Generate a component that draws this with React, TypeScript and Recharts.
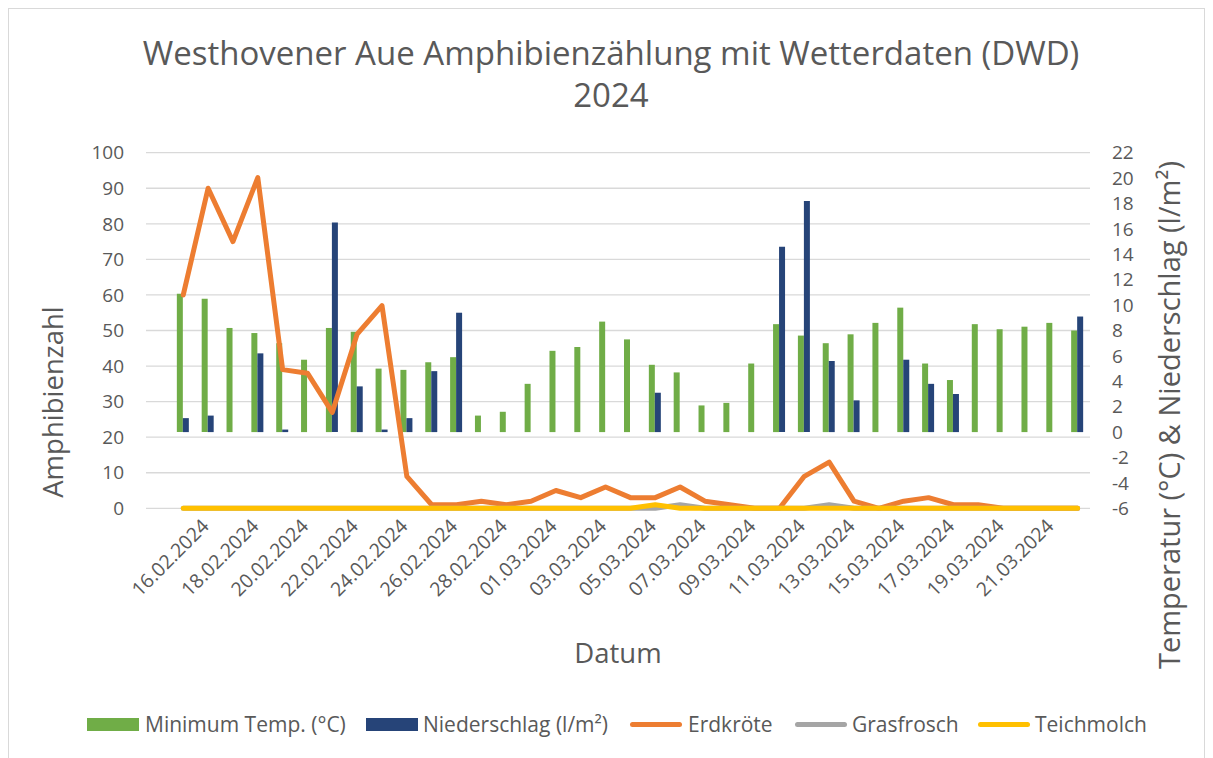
import { ComposedChart, Bar, Line, XAxis, YAxis, CartesianGrid } from 'recharts';

const FONT = '"Open Sans", sans-serif';
const TEXT = '#595959';

// 16.02.2024 – 23.03.2024
const dates = [
  '16.02.2024', '17.02.2024', '18.02.2024', '19.02.2024', '20.02.2024', '21.02.2024',
  '22.02.2024', '23.02.2024', '24.02.2024', '25.02.2024', '26.02.2024', '27.02.2024',
  '28.02.2024', '29.02.2024', '01.03.2024', '02.03.2024', '03.03.2024', '04.03.2024',
  '05.03.2024', '06.03.2024', '07.03.2024', '08.03.2024', '09.03.2024', '10.03.2024',
  '11.03.2024', '12.03.2024', '13.03.2024', '14.03.2024', '15.03.2024', '16.03.2024',
  '17.03.2024', '18.03.2024', '19.03.2024', '20.03.2024', '21.03.2024', '22.03.2024',
  '23.03.2024',
];

const minTemp = [
  10.9, 10.5, 8.2, 7.8, 7.0, 5.7, 8.2, 7.9, 5.0, 4.9, 5.5, 5.9, 1.3, 1.6, 3.8, 6.4, 6.7, 8.7,
  7.3, 5.3, 4.7, 2.1, 2.3, 5.4, 8.5, 7.6, 7.0, 7.7, 8.6, 9.8, 5.4, 4.1, 8.5, 8.1, 8.3, 8.6, 8.0,
];
const niederschlag = [
  1.1, 1.3, 0, 6.2, 0.2, 0, 16.5, 3.6, 0.2, 1.1, 4.8, 9.4, 0, 0, 0, 0, 0, 0,
  0, 3.1, 0, 0, 0, 0, 14.6, 18.2, 5.6, 2.5, 0, 5.7, 3.8, 3.0, 0, 0, 0, 0, 9.1,
];
const erdkroete = [
  60, 90, 75, 93, 39, 38, 27, 49, 57, 9, 1, 1, 2, 1, 2, 5, 3, 6,
  3, 3, 6, 2, 1, 0, 0, 9, 13, 2, 0, 2, 3, 1, 1, 0, 0, 0, 0,
];
const grasfrosch = [
  0, 0, 0, 0, 0, 0, 0, 0, 0, 0, 0, 0, 0, 0, 0, 0, 0, 0,
  0, 0, 1, 0, 0, 0, 0, 0, 1, 0, 0, 0, 0, 0, 0, 0, 0, 0, 0,
];
const teichmolch = [
  0, 0, 0, 0, 0, 0, 0, 0, 0, 0, 0, 0, 0, 0, 0, 0, 0, 0,
  0, 1, 0, 0, 0, 0, 0, 0, 0, 0, 0, 0, 0, 0, 0, 0, 0, 0, 0,
];

const leftTicks = [0, 10, 20, 30, 40, 50, 60, 70, 80, 90, 100];
const rightTicks = [-6, -4, -2, 0, 2, 4, 6, 8, 10, 12, 14, 16, 18, 20, 22];

// the sheet has one empty row before the first date
const data = [
  { date: '' },
  ...dates.map((d, i) => ({
    date: d,
    minTemp: minTemp[i],
    niederschlag: niederschlag[i],
    erdkroete: erdkroete[i],
    grasfrosch: grasfrosch[i],
    teichmolch: teichmolch[i],
  })),
];

const legendItems = [
  { label: 'Minimum Temp. (°C)', color: '#70ad47', kind: 'bar', x: 78, tx: 136 },
  { label: 'Niederschlag (l/m²)', color: '#264478', kind: 'bar', x: 357, tx: 414 },
  { label: 'Erdkröte', color: '#ed7d31', kind: 'line', x: 621, tx: 679 },
  { label: 'Grasfrosch', color: '#a5a5a5', kind: 'line', x: 786, tx: 843 },
  { label: 'Teichmolch', color: '#ffc000', kind: 'line', x: 969, tx: 1026 },
];

const DateTick = (props: any) => {
  const { x, y, payload, index } = props;
  if (index % 2 === 0 || index > 35) return <g />;
  return (
    <g transform={`translate(${x + 27},${y + 11})`}>
      <text textAnchor='end' transform='rotate(-45)' fill={TEXT} fontSize={19.5} fontFamily={FONT}>
        {payload.value}
      </text>
    </g>
  );
};

const tickStyle = { fill: TEXT, fontSize: 19, fontFamily: FONT };

export default function App() {
  return (
    <div
      style={{
        position: 'relative',
        width: 1197,
        height: 760,
        border: '1px solid #d9d9d9',
        boxSizing: 'border-box',
        fontFamily: FONT,
        color: TEXT,
        background: '#fff',
      }}
    >
      <div
        style={{
          position: 'absolute',
          left: 0,
          top: 23,
          width: 1204,
          textAlign: 'center',
          fontSize: 33,
          lineHeight: '42px',
        }}
      >
        Westhovener Aue Amphibienzählung mit Wetterdaten (DWD)
        <br />
        2024
      </div>

      <ComposedChart
        width={1195}
        height={740}
        data={data}
        margin={{ top: 143.7, right: 54, left: 57, bottom: 140.7 }}
        barGap={0}
        style={{ position: 'absolute', left: 0, top: 0 }}
      >
        <CartesianGrid vertical={false} stroke='#d9d9d9' strokeWidth={1.3} />
        <XAxis
          dataKey='date'
          interval={0}
          height={100}
          axisLine={false}
          tickLine={false}
          tick={<DateTick />}
        />
        <YAxis
          domain={[0, 100]}
          ticks={leftTicks}
          width={80}
          axisLine={false}
          tickLine={false}
          tickSize={0}
          tickMargin={22}
          tick={tickStyle}
        />
        <YAxis
          yAxisId='right'
          orientation='right'
          domain={[-6, 22]}
          ticks={rightTicks}
          interval={0}
          width={60}
          axisLine={false}
          tickLine={false}
          tickSize={0}
          tickMargin={22}
          tick={{ ...tickStyle, textAnchor: 'start' }}
        />
        <Bar yAxisId='right' dataKey='minTemp' fill='#70ad47' barSize={6} isAnimationActive={false} />
        <Bar yAxisId='right' dataKey='niederschlag' fill='#264478' barSize={6} isAnimationActive={false} />
        <Line
          dataKey='erdkroete'
          stroke='#ed7d31'
          strokeWidth={5}
          strokeLinejoin='round'
          strokeLinecap='round'
          dot={false}
          activeDot={false}
          isAnimationActive={false}
        />
        <Line
          dataKey='grasfrosch'
          stroke='#a5a5a5'
          strokeWidth={5}
          strokeLinejoin='round'
          strokeLinecap='round'
          dot={false}
          activeDot={false}
          isAnimationActive={false}
        />
        <Line
          dataKey='teichmolch'
          stroke='#ffc000'
          strokeWidth={5}
          strokeLinejoin='round'
          strokeLinecap='round'
          dot={false}
          activeDot={false}
          isAnimationActive={false}
        />
      </ComposedChart>

      <div
        style={{
          position: 'absolute',
          left: 43,
          top: 393,
          transform: 'translate(-50%, -50%) rotate(-90deg)',
          fontSize: 27.5,
          whiteSpace: 'nowrap',
        }}
      >
        Amphibienzahl
      </div>
      <div
        style={{
          position: 'absolute',
          left: 1159,
          top: 406,
          transform: 'translate(-50%, -50%) rotate(-90deg)',
          fontSize: 29,
          whiteSpace: 'nowrap',
        }}
      >
        Temperatur (°C) &amp; Niederschlag (l/m²)
      </div>
      <div
        style={{
          position: 'absolute',
          left: 609,
          top: 643,
          transform: 'translate(-50%, -50%)',
          fontSize: 27.5,
          whiteSpace: 'nowrap',
        }}
      >
        Datum
      </div>

      {legendItems.map((item) => (
        <div key={item.label}>
          <span
            style={{
              position: 'absolute',
              left: item.x,
              top: item.kind === 'bar' ? 709 : 713,
              width: 52,
              height: item.kind === 'bar' ? 13 : 5,
              borderRadius: item.kind === 'bar' ? 0 : 3,
              background: item.color,
            }}
          />
          <span
            style={{
              position: 'absolute',
              left: item.tx,
              top: 701,
              fontSize: 21,
              lineHeight: '28px',
              whiteSpace: 'nowrap',
            }}
          >
            {item.label}
          </span>
        </div>
      ))}
    </div>
  );
}
